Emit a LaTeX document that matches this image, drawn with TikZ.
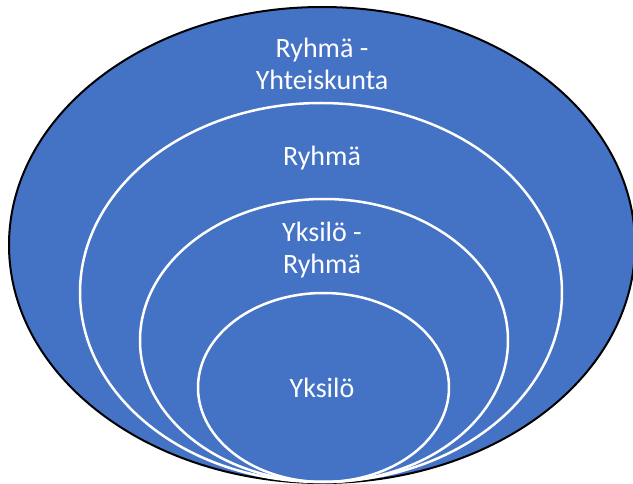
\documentclass[tikz,border=0pt]{standalone}
\usepackage{fontspec}
\setmainfont{Carlito}
\definecolor{officeblue}{HTML}{4472C4}
\begin{document}
\begin{tikzpicture}[x=1pt,y=-1pt,
  ring/.style={draw=white,line width=2.5pt},
  lbl/.style={text=white,font=\fontsize{28}{32}\selectfont,align=center,inner sep=0pt}]
\useasboundingbox (0,0) rectangle (633,484);
\clip (0,0) rectangle (633,484);
\filldraw[fill=officeblue,draw=black,line width=2pt] (322,245) ellipse [x radius=313, y radius=238];
\draw[ring] (321,292.5) ellipse [x radius=241, y radius=189.5];
\draw[ring] (324,340.5) ellipse [x radius=184, y radius=141.5];
\draw[ring] (323.5,387.5) ellipse [x radius=125.5, y radius=94.5];
\node[lbl] (t1) at (322,64) {Ryhmä -\\Yhteiskunta};
\node[lbl] (t2) at (322,158) {Ryhmä};
\node[lbl] (t3) at (322,250) {Yksilö -\\Ryhmä};
\node[lbl] (t4) at (322,388) {Yksilö};
\end{tikzpicture}
\end{document}
